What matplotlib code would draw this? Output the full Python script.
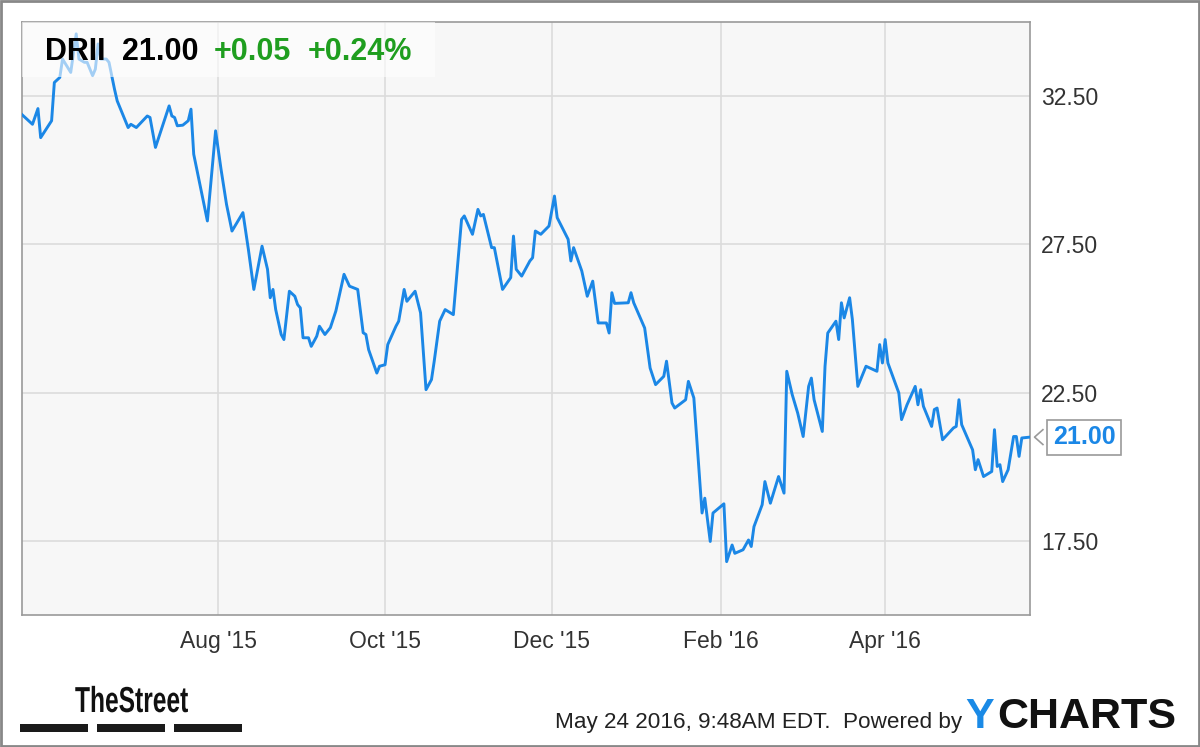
import pandas as pd
import matplotlib
matplotlib.use('Agg')
import matplotlib.pyplot as plt
import matplotlib.dates as mdates
from matplotlib.patches import Rectangle, Polygon
from matplotlib.lines import Line2D
from matplotlib.patheffects import AbstractPathEffect
from matplotlib.transforms import Affine2D

plt.rcParams['font.family'] = ['Liberation Sans', 'DejaVu Sans']

ticker = 'DRII'
last_price = 21.00
change = '+0.05'
change_pct = '+0.24%'
timestamp = 'May 24 2016, 9:48AM EDT.  Powered by'

dates = [
    '2015-05-21', '2015-05-25', '2015-05-27', '2015-05-28', '2015-06-01', '2015-06-02', '2015-06-04',
    '2015-06-05', '2015-06-06', '2015-06-08', '2015-06-10', '2015-06-11', '2015-06-13', '2015-06-14',
    '2015-06-16', '2015-06-17', '2015-06-18', '2015-06-19', '2015-06-21', '2015-06-22', '2015-06-24',
    '2015-06-25', '2015-06-29', '2015-06-30', '2015-07-02', '2015-07-06', '2015-07-07', '2015-07-09',
    '2015-07-14', '2015-07-15', '2015-07-16', '2015-07-17', '2015-07-19', '2015-07-21', '2015-07-22',
    '2015-07-23', '2015-07-28', '2015-07-31', '2015-08-02', '2015-08-04', '2015-08-06', '2015-08-10',
    '2015-08-12', '2015-08-14', '2015-08-17', '2015-08-19', '2015-08-20', '2015-08-21', '2015-08-22',
    '2015-08-24', '2015-08-25', '2015-08-27', '2015-08-29', '2015-08-30', '2015-08-31', '2015-09-01',
    '2015-09-03', '2015-09-04', '2015-09-06', '2015-09-07', '2015-09-09', '2015-09-11', '2015-09-13',
    '2015-09-16', '2015-09-18', '2015-09-21', '2015-09-23', '2015-09-24', '2015-09-25', '2015-09-28',
    '2015-09-29', '2015-10-01', '2015-10-02', '2015-10-05', '2015-10-06', '2015-10-08', '2015-10-09',
    '2015-10-12', '2015-10-14', '2015-10-16', '2015-10-18', '2015-10-19', '2015-10-21', '2015-10-23',
    '2015-10-26', '2015-10-29', '2015-10-30', '2015-11-02', '2015-11-04', '2015-11-05', '2015-11-06',
    '2015-11-09', '2015-11-10', '2015-11-13', '2015-11-16', '2015-11-17', '2015-11-18', '2015-11-20',
    '2015-11-23', '2015-11-24', '2015-11-25', '2015-11-27', '2015-11-30', '2015-12-02', '2015-12-03',
    '2015-12-07', '2015-12-08', '2015-12-09', '2015-12-12', '2015-12-14', '2015-12-16', '2015-12-18',
    '2015-12-21', '2015-12-22', '2015-12-23', '2015-12-24', '2015-12-29', '2015-12-30', '2015-12-31',
    '2016-01-04', '2016-01-06', '2016-01-08', '2016-01-11', '2016-01-12', '2016-01-14', '2016-01-15',
    '2016-01-19', '2016-01-20', '2016-01-22', '2016-01-25', '2016-01-26', '2016-01-28', '2016-01-29',
    '2016-02-02', '2016-02-03', '2016-02-05', '2016-02-06', '2016-02-09', '2016-02-11', '2016-02-12',
    '2016-02-13', '2016-02-16', '2016-02-17', '2016-02-19', '2016-02-22', '2016-02-24', '2016-02-25',
    '2016-02-27', '2016-02-29', '2016-03-02', '2016-03-04', '2016-03-05', '2016-03-06', '2016-03-09',
    '2016-03-10', '2016-03-11', '2016-03-14', '2016-03-15', '2016-03-16', '2016-03-17', '2016-03-19',
    '2016-03-20', '2016-03-22', '2016-03-25', '2016-03-29', '2016-03-30', '2016-03-31', '2016-04-01',
    '2016-04-02', '2016-04-06', '2016-04-07', '2016-04-09', '2016-04-12', '2016-04-13', '2016-04-14',
    '2016-04-15', '2016-04-18', '2016-04-19', '2016-04-20', '2016-04-22', '2016-04-26', '2016-04-27',
    '2016-04-28', '2016-04-29', '2016-05-03', '2016-05-04', '2016-05-05', '2016-05-07', '2016-05-10',
    '2016-05-11', '2016-05-12', '2016-05-13', '2016-05-14', '2016-05-16', '2016-05-18', '2016-05-19',
    '2016-05-20', '2016-05-21', '2016-05-24',
]

prices = [
    31.89, 31.55, 32.08, 31.10, 31.67, 32.96, 33.13,
    33.75, 33.60, 33.30, 34.60, 33.75, 33.64, 33.64,
    33.19, 33.41, 34.26, 33.75, 33.75, 33.64, 32.74,
    32.34, 31.44, 31.55, 31.44, 31.83, 31.78, 30.77,
    32.17, 31.83, 31.78, 31.50, 31.52, 31.67, 32.06,
    30.54, 28.29, 31.33, 30.03, 28.85, 27.95, 28.57,
    27.33, 25.98, 27.44, 26.66, 25.70, 25.98, 25.30,
    24.46, 24.29, 25.92, 25.75, 25.47, 25.36, 24.35,
    24.35, 24.06, 24.40, 24.74, 24.46, 24.69, 25.25,
    26.49, 26.09, 25.98, 24.52, 24.46, 23.95, 23.16,
    23.39, 23.44, 24.12, 24.74, 24.91, 25.98, 25.58,
    25.92, 25.19, 22.60, 22.94, 23.56, 24.91, 25.30,
    25.13, 28.34, 28.46, 27.84, 28.68, 28.46, 28.51,
    27.39, 27.39, 25.98, 26.38, 27.78, 26.66, 26.43,
    26.94, 27.05, 27.95, 27.84, 28.12, 29.13, 28.40,
    27.67, 26.94, 27.39, 26.60, 25.75, 26.26, 24.85,
    24.85, 24.51, 25.87, 25.51, 25.53, 25.87, 25.53,
    24.68, 23.33, 22.77, 23.05, 23.56, 22.15, 21.98,
    22.26, 22.88, 22.32, 18.44, 18.94, 17.48, 18.44,
    18.75, 16.80, 17.36, 17.08, 17.20, 17.53, 17.31,
    17.98, 18.72, 19.50, 18.77, 19.67, 19.11, 23.22,
    22.43, 21.81, 21.02, 22.71, 22.99, 22.26, 21.19,
    23.39, 24.51, 24.91, 24.29, 25.53, 25.02, 25.70,
    24.97, 22.71, 23.39, 23.22, 24.12, 23.50, 24.29,
    23.50, 22.49, 21.59, 22.09, 22.71, 22.09, 22.60,
    22.04, 21.36, 21.93, 21.98, 20.91, 21.31, 21.36,
    22.26, 21.42, 20.57, 19.90, 20.24, 19.67, 19.84,
    21.25, 20.01, 20.07, 19.50, 19.90, 21.02, 21.02,
    20.35, 20.97, 21.00,
]

y_ticks = [17.5, 22.5, 27.5, 32.5]
x_ticks = ['2015-08-01', '2015-10-01', '2015-12-01', '2016-02-01', '2016-04-01']

dates = pd.to_datetime(dates)
line_blue = '#1b87e6'
border = '#9a9a9a'


class Squeeze(AbstractPathEffect):
    # narrows text horizontally around its anchor point
    def __init__(self, sx):
        super().__init__()
        self.sx = sx

    def draw_path(self, renderer, gc, tpath, affine, rgbFace=None):
        x0 = affine.get_matrix()[0, 2]
        squeeze = Affine2D().translate(-x0, 0).scale(self.sx, 1).translate(x0, 0)
        renderer.draw_path(gc, tpath, affine + squeeze, rgbFace)


fig = plt.figure(figsize=(12, 7.47), dpi=100)
ax = fig.add_axes([22/1200, 1-615/747, 1008/1200, 593/747])
ax.set_facecolor('#f7f7f7')

ax.plot(dates, prices, color=line_blue, linewidth=2.1, zorder=3)

ax.set_xlim(pd.Timestamp('2015-05-21 04:00'), pd.Timestamp('2016-05-24'))
ax.set_ylim(15, 35)
ax.set_yticks(y_ticks)
ax.set_yticklabels(['%.2f' % v for v in y_ticks])
ax.set_xticks(pd.to_datetime(x_ticks))
ax.xaxis.set_major_formatter(mdates.DateFormatter("%b '%y"))
ax.yaxis.tick_right()
ax.tick_params(axis='y', length=0, pad=8, labelsize=16.5, labelcolor='#333333')
ax.tick_params(axis='x', length=0, pad=11, labelsize=16.5, labelcolor='#333333')
ax.grid(True, color='#dcdcdc', linewidth=1.2, zorder=0)
ax.set_axisbelow(True)
for s in ax.spines.values():
    s.set_color(border)
    s.set_linewidth(1.2)

# header band over the top left of the plot
ax.add_patch(Rectangle((0, 0.907), 0.41, 0.093, transform=ax.transAxes,
                       facecolor='white', alpha=0.6, edgecolor='none', zorder=4))
hy = 1 - 60/747
fig.text(45/1200, hy, ticker, fontsize=22, fontweight='bold', color='black', va='baseline')
fig.text(122/1200, hy, '%.2f' % last_price, fontsize=22, fontweight='bold', color='black', va='baseline')
fig.text(214/1200, hy, change, fontsize=22, fontweight='bold', color='#1f9e1f', va='baseline')
fig.text(308/1200, hy, change_pct, fontsize=22, fontweight='bold', color='#1f9e1f', va='baseline')

# last price flag on the right axis
yt = ax.get_yaxis_transform()
ax.text(1.0536, last_price, '%.2f' % last_price, transform=yt, ha='center', va='center',
        fontsize=18, fontweight='bold', color=line_blue, clip_on=False, zorder=5,
        bbox=dict(boxstyle='square,pad=0.22', facecolor='white', edgecolor=border, linewidth=1.2))
tip, base, half = 1.0045, 1.0128, 0.25
ax.add_patch(Polygon([(tip, last_price), (base + 0.002, last_price + half), (base + 0.002, last_price - half)],
                     closed=True, transform=yt, facecolor='white', edgecolor='none', clip_on=False, zorder=6))
ax.add_line(Line2D([base, tip, base], [last_price + half, last_price, last_price - half], transform=yt,
                   color=border, linewidth=1.2, clip_on=False, zorder=7))

# footer
fy = 1 - 728/747
fig.text(555/1200, fy, timestamp, fontsize=16.2, color='#222222', va='baseline')
fig.text(965/1200, fy, 'Y', fontsize=31, fontweight='bold', color='#1a8ae6', va='baseline')
fig.text(997/1200, fy, 'CHARTS', fontsize=31, fontweight='bold', color='#111111', va='baseline')
fig.text(75/1200, 1 - 712/747, 'TheStreet', fontsize=26, fontweight='bold', color='#111111',
         va='baseline', path_effects=[Squeeze(0.68)])
for x0 in [20, 97, 174]:
    fig.patches.append(Rectangle((x0/1200, 1 - 732/747), 68/1200, 8/747, transform=fig.transFigure,
                                 facecolor='#1a1a1a', edgecolor='none'))

# outer frame
fig.patches.append(Rectangle((0.001, 0.002), 0.998, 0.996, transform=fig.transFigure,
                             facecolor='none', edgecolor='#888888', linewidth=2))

fig.savefig('out.png', dpi=100)
